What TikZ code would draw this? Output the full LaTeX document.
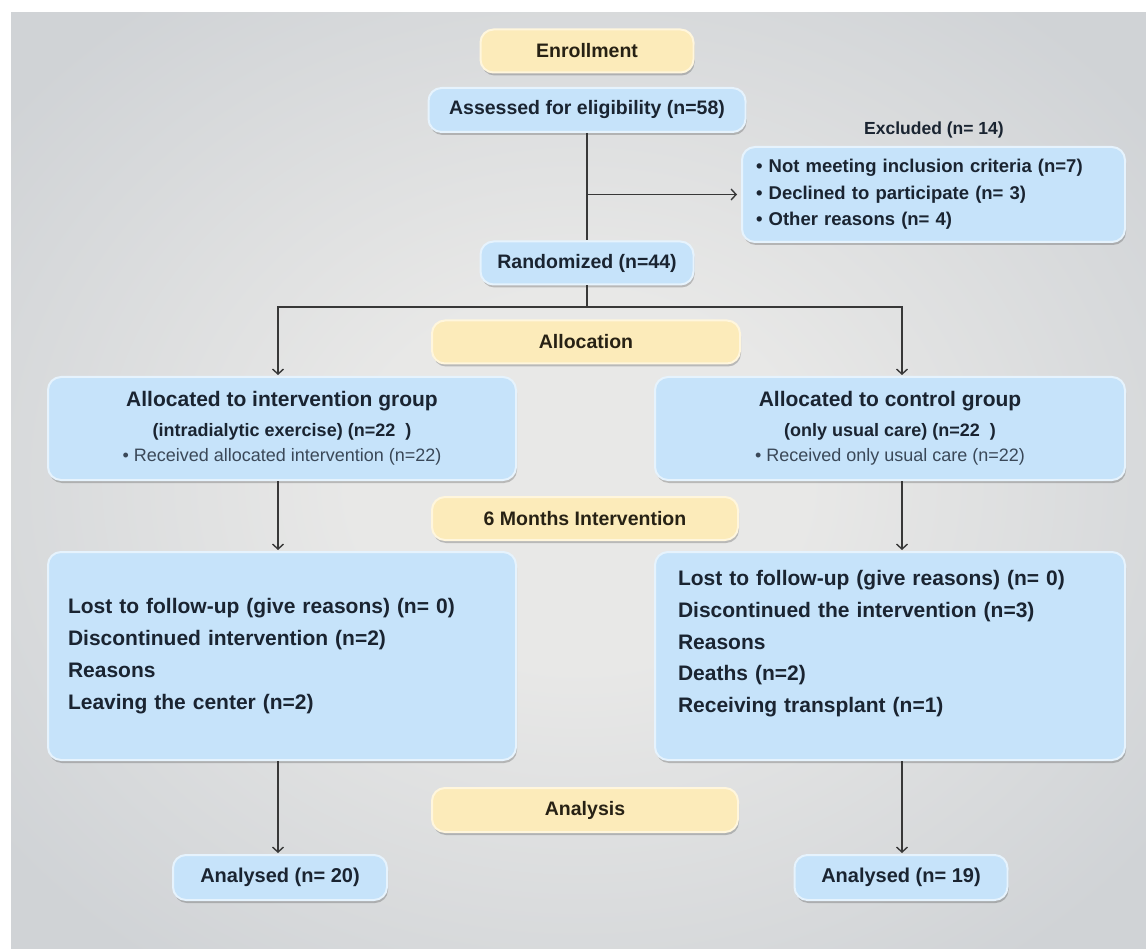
\documentclass[tikz,border=0pt]{standalone}
\usepackage{fontspec}
\setmainfont{Liberation Sans}
\usetikzlibrary{arrows.meta,shadows,calc}

\definecolor{bgo}{HTML}{D0D3D6}
\definecolor{bgc}{HTML}{E8E8E7}
\definecolor{bfill}{HTML}{C6E3FA}
\definecolor{bline}{HTML}{E6F3FD}
\definecolor{yfill}{HTML}{FCEBBA}
\definecolor{yline}{HTML}{FFF6DD}
\definecolor{ink}{HTML}{1A2431}
\definecolor{yink}{HTML}{272114}
\definecolor{conn}{HTML}{383838}
\definecolor{soft}{HTML}{3A4858}

\pgfdeclareradialshading{bgshade}{\pgfpoint{0bp}{0bp}}{color(0bp)=(bgc); color(10bp)=(bgc); color(32bp)=(bgo); color(50bp)=(bgo)}

\tikzset{
  boxbase/.style={line width=2pt, inner sep=0pt, align=center,
    drop shadow={shadow xshift=1pt, shadow yshift=-3pt, opacity=0.2, fill=black}},
  bluebox/.style={boxbase, draw=bline, fill=bfill, text=ink, rounded corners=13pt,
    font=\fontsize{19.5}{23}\selectfont\bfseries},
  yellowbox/.style={boxbase, draw=yline, fill=yfill, text=yink, rounded corners=13pt,
    font=\fontsize{19.5}{23}\selectfont\bfseries},
  conline/.style={draw=conn, line width=1.7pt},
  conarrow/.style={conline, -{Straight Barb[length=5pt,width=11pt,line width=1.4pt]}, shorten >=1pt},
}

\begin{document}
\begin{tikzpicture}[x=1pt,y=-1pt]
\useasboundingbox (0,0) rectangle (1146,949);
\fill[white] (0,0) rectangle (1146,949);
\shade[shading=bgshade] (11,13) rectangle (1146,949);

% phase labels
\node[yellowbox, minimum width=213pt, minimum height=43pt] (enroll) at (587,51) {Enrollment};
\node[yellowbox, minimum width=308pt, minimum height=43pt] (alloc) at (586,342) {Allocation};
\node[yellowbox, minimum width=306pt, minimum height=43pt] (six) at (585,518.5) {6 Months Intervention};
\node[yellowbox, minimum width=306pt, minimum height=44pt] (analysis) at (585,810) {Analysis};

% top column
\node[bluebox, minimum width=317pt, minimum height=44pt] (assess) at (587,110) {Assessed for eligibility (n=58)};
\node[bluebox, minimum width=213pt, minimum height=43pt] (rand) at (587,263) {Randomized (n=44)};

\node[text=ink, font=\fontsize{17.5}{20}\selectfont\bfseries] (exlab) at (934,130) {Excluded (n= 14)};
\node[bluebox, minimum width=383pt, minimum height=95pt, text width=355pt, align=left,
      font=\fontsize{18.5}{26.5}\selectfont\bfseries] (excl) at (933.5,194.5)
  {\textbullet\ Not meeting inclusion criteria (n=7)\\
   \textbullet\ Declined to participate (n= 3)\\
   \textbullet\ Other reasons (n= 4)};

% allocation boxes
\node[bluebox, minimum width=468pt, minimum height=103pt, font=\fontsize{18}{25}\selectfont\bfseries] (aleft) at (282,428.5)
  {{\fontsize{21}{25}\selectfont Allocated to intervention group}\\[5pt]
   (intradialytic exercise) (n=22\ \ )\\
   {\mdseries\color{soft}\textbullet\ Received allocated intervention (n=22)}};
\node[bluebox, minimum width=470pt, minimum height=103pt, font=\fontsize{18}{25}\selectfont\bfseries] (aright) at (890,428.5)
  {{\fontsize{21}{25}\selectfont Allocated to control group}\\[5pt]
   (only usual care) (n=22\ \ )\\
   {\mdseries\color{soft}\textbullet\ Received only usual care (n=22)}};

% follow-up boxes
\node[bluebox, minimum width=468pt, minimum height=208pt, text width=428pt, align=left,
      font=\fontsize{21}{32}\selectfont\bfseries] (fleft) at (282,656)
  {Lost to follow-up (give reasons) (n= 0)\\
   Discontinued intervention (n=2)\\
   Reasons\\
   Leaving the center (n=2)};
\node[bluebox, minimum width=470pt, minimum height=208pt, text width=424pt, align=left,
      font=\fontsize{21}{31.75}\selectfont\bfseries] (fright) at (890,656)
  {Lost to follow-up (give reasons) (n= 0)\\
   Discontinued the intervention (n=3)\\
   Reasons\\
   Deaths (n=2)\\
   Receiving transplant (n=1)\\[-3pt]\mbox{}};

% analysed
\node[bluebox, minimum width=214pt, minimum height=45pt, font=\fontsize{20}{23}\selectfont\bfseries] (anl) at (280,877.5) {Analysed (n= 20)};
\node[bluebox, minimum width=213pt, minimum height=45pt, font=\fontsize{20}{23}\selectfont\bfseries] (anr) at (901,877.5) {Analysed (n= 19)};

% connectors
\coordinate (jl) at (278,307);
\coordinate (jr) at (902,307);
\draw[conline] (assess.south) -- (rand.north);
\draw[conarrow] (assess.south |- excl.west) -- ([xshift=-3pt]excl.west);
\draw[conarrow] (rand.south) |- (jl) -- (jl |- aleft.north);
\draw[conarrow] (rand.south) |- (jr) -- (jr |- aright.north);
\draw[conarrow] (jl |- aleft.south) -- (jl |- fleft.north);
\draw[conarrow] (jr |- aright.south) -- (jr |- fright.north);
\draw[conarrow] (jl |- fleft.south) -- (jl |- anl.north);
\draw[conarrow] (jr |- fright.south) -- (jr |- anr.north);
\end{tikzpicture}
\end{document}
